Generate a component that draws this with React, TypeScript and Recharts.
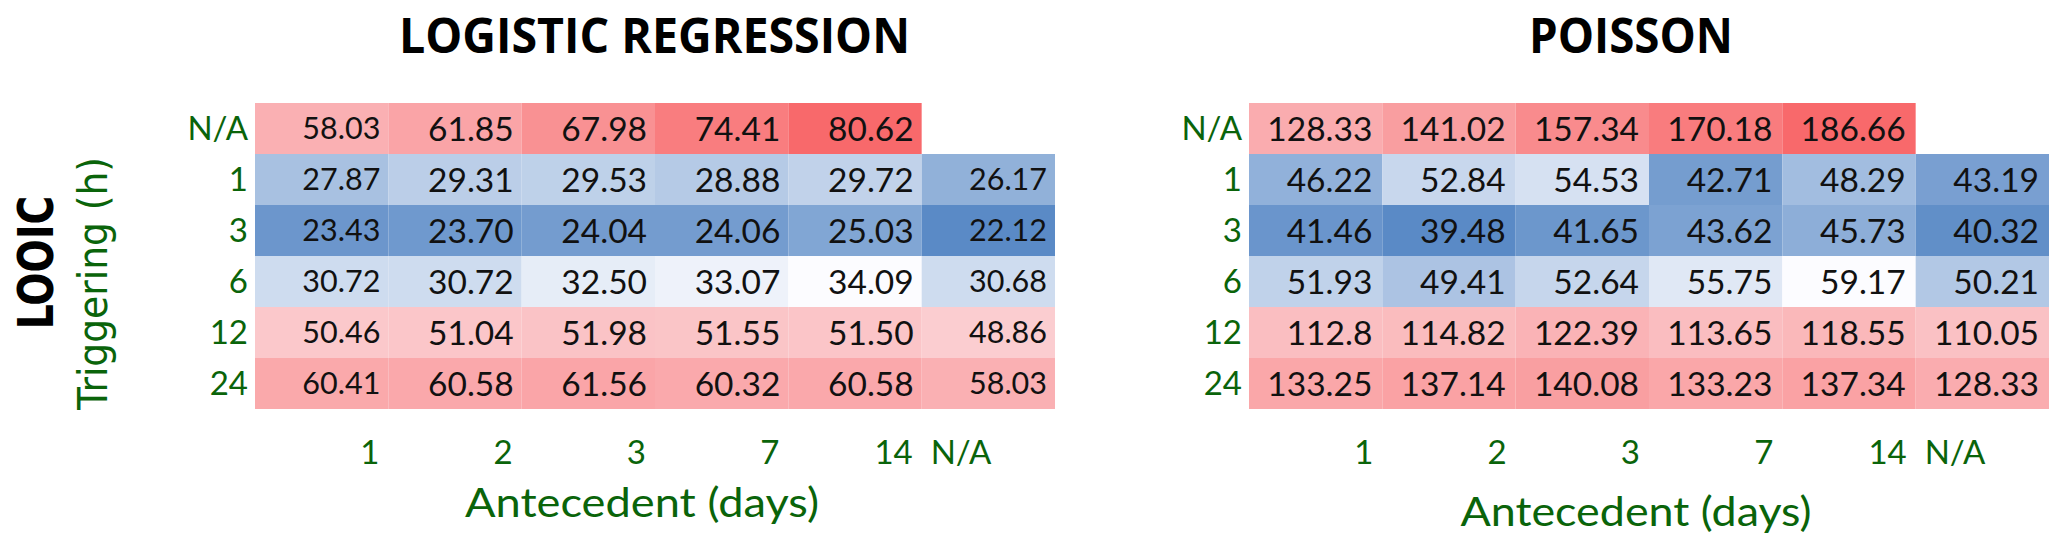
import { BarChart, Bar, XAxis, YAxis, Cell, LabelList } from "recharts";

// rows = triggering (h), columns = antecedent (days)
const ROWS = ["N/A", "1", "3", "6", "12", "24"];
const COLS = ["1", "2", "3", "7", "14", "N/A"];

const LOGISTIC_NA = ["58.03", "61.85", "67.98", "74.41", "80.62", null];
const LOGISTIC_1 = ["27.87", "29.31", "29.53", "28.88", "29.72", "26.17"];
const LOGISTIC_3 = ["23.43", "23.70", "24.04", "24.06", "25.03", "22.12"];
const LOGISTIC_6 = ["30.72", "30.72", "32.50", "33.07", "34.09", "30.68"];
const LOGISTIC_12 = ["50.46", "51.04", "51.98", "51.55", "51.50", "48.86"];
const LOGISTIC_24 = ["60.41", "60.58", "61.56", "60.32", "60.58", "58.03"];

const POISSON_NA = ["128.33", "141.02", "157.34", "170.18", "186.66", null];
const POISSON_1 = ["46.22", "52.84", "54.53", "42.71", "48.29", "43.19"];
const POISSON_3 = ["41.46", "39.48", "41.65", "43.62", "45.73", "40.32"];
const POISSON_6 = ["51.93", "49.41", "52.64", "55.75", "59.17", "50.21"];
const POISSON_12 = ["112.8", "114.82", "122.39", "113.65", "118.55", "110.05"];
const POISSON_24 = ["133.25", "137.14", "140.08", "133.23", "137.34", "128.33"];

const LOGISTIC = [LOGISTIC_NA, LOGISTIC_1, LOGISTIC_3, LOGISTIC_6, LOGISTIC_12, LOGISTIC_24];
const POISSON = [POISSON_NA, POISSON_1, POISSON_3, POISSON_6, POISSON_12, POISSON_24];

const GREEN = "#0a640a";
const FONT = "Lato, 'Open Sans', sans-serif";
const PLOT_W = 800;
const HALF_BAND = PLOT_W / COLS.length / 2;

// excel style 3-colour scale: min blue, 50th percentile white, max red
const LOW = [90, 138, 198];
const MID = [252, 252, 255];
const HIGH = [248, 105, 107];

function mix(a: number[], b: number[], t: number) {
  const c = a.map((v, i) => Math.round(v + (b[i] - v) * t));
  return `rgb(${c[0]},${c[1]},${c[2]})`;
}

function makeScale(grid: (string | null)[][]) {
  const vals = grid.flat().filter((v) => v != null).map(Number).sort((a, b) => a - b);
  const min = vals[0];
  const max = vals[vals.length - 1];
  const med = vals[Math.floor(vals.length / 2)];
  return (v: number) =>
    v <= med ? mix(LOW, MID, (v - min) / (med - min)) : mix(MID, HIGH, (v - med) / (max - med));
}

type HeatmapProps = {
  grid: (string | null)[][];
  left: number;
  width: number;
  yAxisWidth: number;
  rightMargin: number;
  pad: number;
  colFont: number[];
};

function Heatmap({ grid, left, width, yAxisWidth, rightMargin, pad, colFont }: HeatmapProps) {
  const color = makeScale(grid);
  const data = ROWS.map((r, i) => {
    const o: Record<string, string | number | null> = { row: r };
    COLS.forEach((_, j) => {
      o[`c${j}`] = grid[i][j] == null ? null : 1;
      o[`v${j}`] = grid[i][j];
    });
    return o;
  });

  const xTick = (props: any) => {
    const idx = Math.floor(props.payload.value);
    const label = COLS[idx];
    const isNA = label === "N/A";
    return (
      <text
        x={isNA ? props.x - HALF_BAND + 9 : props.x + HALF_BAND - 9}
        y={props.y}
        dy="0.71em"
        textAnchor={isNA ? "start" : "end"}
        fill={GREEN}
        fontSize={33}
        fontFamily={FONT}
      >
        {label}
      </text>
    );
  };

  return (
    <div style={{ position: "absolute", left, top: 0 }}>
      <BarChart
        width={width}
        height={552}
        data={data}
        layout="vertical"
        barCategoryGap={0}
        barGap={0}
        margin={{ top: 103, right: rightMargin, bottom: 93, left: 0 }}
      >
        <XAxis
          type="number"
          domain={[0, COLS.length]}
          ticks={COLS.map((_, j) => j + 0.5)}
          interval={0}
          height={50}
          axisLine={false}
          tickLine={false}
          tickSize={0}
          tickMargin={32}
          tick={xTick}
        />
        <YAxis
          type="category"
          dataKey="row"
          width={yAxisWidth}
          axisLine={false}
          tickLine={false}
          tickSize={0}
          tickMargin={7}
          interval={0}
          tick={{ fill: GREEN, fontSize: 33, fontFamily: FONT }}
        />
        {COLS.map((_, j) => (
          <Bar key={j} dataKey={`c${j}`} stackId="s" isAnimationActive={false}>
            {data.map((d, i) => (
              <Cell key={i} fill={d[`v${j}`] == null ? "none" : color(Number(d[`v${j}`]))} />
            ))}
            <LabelList
              dataKey={`v${j}`}
              content={(p: any) => {
                if (p.value == null) return null;
                const vb = p.viewBox && p.viewBox.width != null ? p.viewBox : p;
                return (
                  <text
                    x={vb.x + vb.width - pad}
                    y={vb.y + vb.height / 2}
                    dy="0.36em"
                    textAnchor="end"
                    fill="#111"
                    fontSize={colFont[j]}
                    fontFamily={FONT}
                  >
                    {p.value}
                  </text>
                );
              }}
            />
          </Bar>
        ))}
      </BarChart>
    </div>
  );
}

export default function App() {
  return (
    <div style={{ position: "absolute", left: 0, top: 0, width: 2067, height: 552, background: "#fff" }}>
      <Heatmap
        grid={LOGISTIC}
        left={0}
        width={1067}
        yAxisWidth={255}
        rightMargin={12}
        pad={8}
        colFont={[30.5, 33.5, 33.5, 33.5, 33.5, 30.5]}
      />
      <Heatmap
        grid={POISSON}
        left={1067}
        width={1000}
        yAxisWidth={182}
        rightMargin={18}
        pad={10}
        colFont={[33.5, 33.5, 33.5, 33.5, 33.5, 33.5]}
      />
      <svg
        width={2067}
        height={552}
        style={{ position: "absolute", left: 0, top: 0, pointerEvents: "none" }}
      >
        <text x={654.5} y={53} textAnchor="middle" fontFamily="'Open Sans', sans-serif" fontWeight={700}
          fontSize={49} textLength={511} lengthAdjust="spacingAndGlyphs" fill="#000">
          LOGISTIC REGRESSION
        </text>
        <text x={1631} y={53} textAnchor="middle" fontFamily="'Open Sans', sans-serif" fontWeight={700}
          fontSize={49} textLength={204} lengthAdjust="spacingAndGlyphs" fill="#000">
          POISSON
        </text>
        <text transform="translate(53,262.5) rotate(-90) scale(1,1.26)" textAnchor="middle"
          fontFamily="'DejaVu Sans', sans-serif" fontWeight={700} fontSize={39.2} fill="#000">
          LOOIC
        </text>
        <text transform="translate(107,283.5) rotate(-90)" textAnchor="middle" fontFamily="'DejaVu Sans', sans-serif"
          fontSize={41} textLength={253} lengthAdjust="spacingAndGlyphs" fill={GREEN}>
          Triggering (h)
        </text>
        <text x={642} y={517} textAnchor="middle" fontFamily={FONT} fontSize={41} textLength={354}
          lengthAdjust="spacingAndGlyphs" fill={GREEN}>
          Antecedent (days)
        </text>
        <text x={1636} y={526} textAnchor="middle" fontFamily={FONT} fontSize={41} textLength={351}
          lengthAdjust="spacingAndGlyphs" fill={GREEN}>
          Antecedent (days)
        </text>
      </svg>
    </div>
  );
}
